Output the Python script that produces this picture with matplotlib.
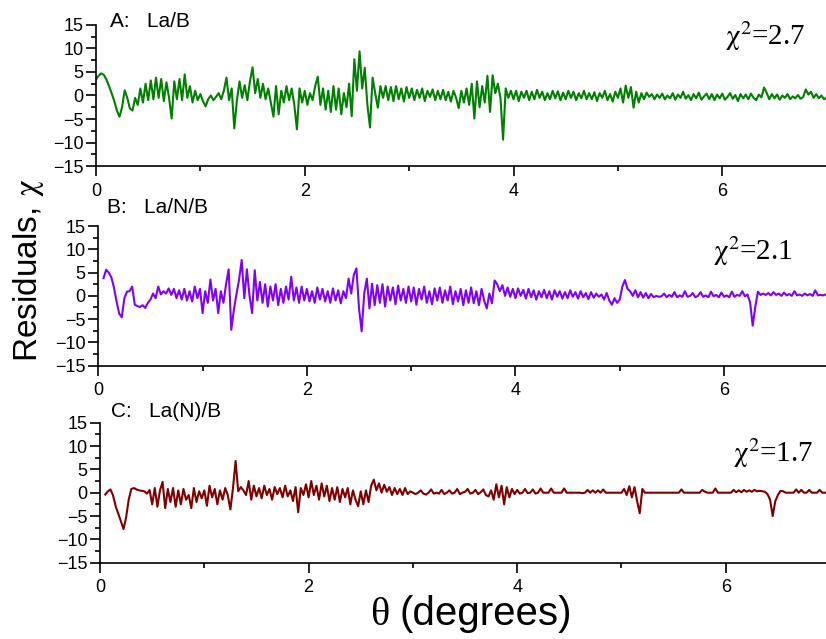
import matplotlib
matplotlib.use("Agg")
import matplotlib.pyplot as plt
import numpy as np

plt.rcParams['font.family'] = ['Liberation Sans', 'DejaVu Sans']
plt.rcParams['mathtext.fontset'] = 'stix'

# angle grid (degrees), one reading every 0.025 deg
theta = np.arange(281) * 0.025

# residuals, panel A: La/B
res_a = [
    3.4, 4.2, 4.7, 4.4, 3.4, 2.0, 0.5, -1.2, -3.2, -4.5,
    -2.5, 1.1, -0.5, -2.8, -3.2, -0.5, -2.0, 1.5, -1.5, 2.5,
    -1.0, 3.2, -0.8, 3.8, -0.5, 3.5, -1.2, 2.8, -0.5, -4.9,
    3.0, -0.8, 3.5, -1.0, 4.5, -0.5, 2.0, -1.5, 1.0, -1.0,
    0.3, -1.2, -2.3, -0.8, 0.0, -1.0, -0.3, 0.5, -0.8, 1.0,
    3.8, -1.0, 1.5, -7.0, -1.0, 3.0, -0.5, 2.2, -1.0, 3.0,
    6.0, 0.5, 3.5, -0.5, 2.5, -0.8, 1.5, -1.5, -4.5, 2.0,
    -4.0, 1.0, -1.5, 2.0, -1.0, 1.5, -2.0, -7.2, 1.5, -1.5,
    1.0, -2.0, 0.5, -1.0, 2.0, 4.0, -2.0, 1.5, -3.0, 1.0,
    -3.5, 2.0, -3.0, 1.5, -4.0, 0.5, -2.5, 2.5, -4.4, 7.7,
    1.0, 9.4, 1.5, 5.9, -2.0, -6.8, 3.8, 0.5, -2.6, 2.0,
    -0.5, 2.0, -1.0, 1.8, -1.2, 2.0, -0.8, 1.5, -1.3, 1.8,
    -0.5, 1.5, -1.0, 1.2, -0.5, 1.5, -1.2, 1.0, -0.3, 1.3,
    -1.0, 1.0, -0.8, 1.2, -1.0, 0.8, -1.3, 1.0, -0.5, -2.7,
    1.0, -1.5, 1.5, -2.0, 2.5, -4.9, 3.0, -2.5, 2.0, -1.5,
    4.2, -3.5, 4.3, 0.5, 2.5, -0.5, -9.4, 1.5, -0.5, 1.0,
    -0.8, 1.0, -1.2, 0.8, -0.5, 1.0, -1.0, 0.8, -0.8, 1.2,
    -0.5, 0.8, -1.0, 0.5, -0.8, 1.0, -0.6, 0.9, -1.0, 0.6,
    -0.8, 1.0, -0.5, 0.8, -1.0, 0.5, -0.6, 1.0, -0.8, 0.5,
    -0.8, 0.7, -1.2, 0.5, -0.5, 1.0, -1.0, 0.3, -1.3, 0.8,
    -0.5, 1.5, -1.5, 2.1, -0.5, 1.8, -2.6, 0.8, -1.5, 0.5,
    -0.8, 0.6, -0.3, 0.3, -0.8, 0.2, -0.5, 0.4, -0.8, 0.0,
    -0.6, 0.5, -0.9, 0.2, -0.5, 0.8, -0.7, 0.1, -1.0, 0.3,
    -0.6, 0.6, -0.9, -0.2, 0.4, -0.8, 0.3, -1.0, 0.2, -0.6,
    0.4, -0.9, -0.3, 0.5, -0.7, 0.1, -1.2, 0.3, -0.6, 0.2,
    -0.8, 0.4, -0.5, -1.0, 0.2, -0.4, 1.7, 0.6, -0.8, 0.3,
    -0.6, 0.2, -0.9, 0.0, -0.5, 0.3, -0.8, -0.2, -0.6, 0.1,
    -0.7, -0.3, 1.3, 0.2, 0.8, -0.5, 0.3, -0.6, 0.0, -0.8,
    -0.4,
]

# panel B: La/N/B (no data below 0.05 deg)
res_b = [
    np.nan, np.nan, 3.8, 5.6, 5.0, 4.0, 1.8, -1.2, -3.8, -4.6,
    -0.5, 0.9, 1.0, 2.0, -1.9, -2.2, -2.4, -2.0, -2.6, -1.5,
    -0.8, 0.5, -0.5, 2.0, 0.3, 1.0, 0.5, 1.6, 0.2, 1.5,
    -0.5, 1.2, -0.8, 1.5, -1.0, 1.0, -1.2, 2.0, -0.5, 1.5,
    -3.7, 1.0, -1.5, 3.5, -1.0, 1.5, -3.7, 1.0, -1.5, 2.5,
    5.7, -7.3, -3.0, 0.4, 3.5, 7.7, -0.5, 5.7, 0.0, -3.7,
    5.5, -1.0, 3.0, -1.5, 2.5, -2.3, 2.0, -1.0, 2.5, -2.0,
    1.5, -1.5, 2.0, -0.8, 4.1, -1.0, 1.8, -1.5, 2.0, -1.0,
    1.5, -1.2, 1.0, -1.5, 1.8, -0.8, 1.5, -1.2, 1.0, -1.5,
    1.6, -1.0, 1.2, -1.6, 1.0, -0.5, 3.7, 0.5, 4.5, 5.9,
    -2.7, -7.6, 0.5, 3.7, -2.7, 2.6, -2.0, 2.3, -1.5, 2.5,
    -2.3, 2.0, -1.0, 1.8, -1.8, 2.2, -1.0, 1.5, -1.5, 2.0,
    -1.2, 1.8, -1.9, 1.5, -0.8, 2.0, -1.5, 1.0, -1.8, 1.6,
    -1.0, 1.8, -1.5, 1.2, -1.0, 2.0, -1.8, 1.0, -1.2, 1.5,
    -2.0, 1.2, -1.5, 1.8, -1.6, 1.0, -2.0, 1.5, -1.0, -2.7,
    0.5, -1.6, 3.3, 2.5, 1.0, 2.3, 0.0, 1.8, -0.2, 1.5,
    -0.5, 1.6, 0.0, 1.3, -0.6, 1.5, -0.3, 1.2, -0.8, 1.0,
    -0.3, 1.3, -0.5, 1.0, -0.8, 1.2, -0.2, 1.0, -0.6, 0.8,
    -0.5, 1.2, -0.2, 0.8, -0.6, 1.0, -0.3, 0.6, -0.7, 0.8,
    -0.4, 0.5, -0.2, 0.3, -0.8, 0.6, -1.0, -1.9, -0.5, -1.5,
    -0.8, 2.0, 3.4, 1.5, 1.0, 0.0, 1.2, -0.3, 0.8, -0.4,
    0.6, -0.5, 0.4, -0.3, 0.0, -0.2, -0.1, 0.5, -0.3, 0.2,
    -0.2, 0.8, -0.3, 0.1, -0.2, 1.0, -0.2, 0.0, 0.6, -0.3,
    0.0, 0.8, -0.2, 0.1, -0.3, 0.9, -0.1, 0.2, -0.3, 0.7,
    -0.2, 0.1, -0.3, 0.9, -0.2, 0.2, 0.0, 1.0, -0.1, 0.3,
    -1.4, -6.4, -2.3, 0.9, 0.2, 0.5, 0.2, 0.6, 0.1, 0.8,
    0.2, 0.5, 0.0, 0.7, 0.1, 0.4, 0.0, 1.0, 0.1, 0.3,
    0.0, 0.5, 0.1, 0.4, 0.0, 1.2, 0.1, 0.2, 0.1, 0.3,
    0.1,
]

# panel C: La(N)/B
res_c = [
    np.nan, np.nan, -0.4, 0.3, 0.7, -0.6, -2.9, -4.5, -6.1, -7.8,
    -5.3, -1.5, 0.8, 1.0, 0.7, 0.5, 0.4, 0.3, -0.2, 0.6,
    -2.5, 1.0, -3.0, 0.5, 2.3, -3.3, 0.8, -2.0, 1.0, -3.0,
    0.5, -2.5, 0.8, -1.5, -0.5, -3.3, 1.0, -2.0, 0.3, -1.2,
    0.5, -2.8, 1.5, -1.0, 0.8, -2.5, 0.5, -1.5, 1.0, -0.5,
    -3.6, 1.0, 6.8, 0.3, 1.2, 0.5, -0.5, 2.5, -1.5, 1.5,
    -0.8, 1.0, -1.2, 1.5, -0.5, 0.8, -1.5, 1.2, -0.3, 1.0,
    -1.0, 1.5, -0.8, 0.5, -1.8, 1.2, -4.2, 1.0, -0.5, 1.8,
    -1.0, 2.5, -0.5, 1.5, -1.5, 2.0, -0.8, 1.5, -1.8, 1.0,
    -1.5, 1.2, -2.0, 0.8, -1.0, 1.0, -2.5, 0.5, -1.5, -2.9,
    0.3, -2.5, 0.5, -2.0, 1.5, 2.8, 0.5, 2.0, 0.0, 1.7,
    0.2, 1.2, -0.5, 1.0, -0.3, 0.8, -0.5, 1.0, -0.3, 0.3,
    0.0, -0.3, 0.0, 0.5, -0.2, -0.4, 0.0, 0.7, -0.2, 0.0,
    -0.2, 0.6, -0.3, 0.0, 0.5, -0.2, 0.0, 0.8, -0.3, 0.0,
    0.2, 0.8, -0.2, 0.0, 0.6, -0.3, 0.1, 0.7, -0.5, -0.8,
    0.5, -1.5, 1.8, -1.0, 1.5, -2.5, 1.2, -1.0, 0.8, -0.3,
    0.6, -0.2, 0.0, 0.8, -0.1, 0.0, 0.7, -0.2, 0.0, 0.9,
    0.0, 0.0, 0.0, 0.9, 0.0, 0.0, 0.0, 0.0, 0.9, 0.0,
    0.0, 0.0, 0.0, 0.0, 0.0, -0.1, 0.0, 0.6, 0.0, 0.5,
    0.0, 0.5, 0.0, 0.7, 0.0, 0.0, 0.0, 0.0, 0.0, 0.0,
    0.0, 0.8, -0.5, 1.4, -1.0, 1.2, -1.8, -4.4, 0.8, 0.0,
    0.0, 0.0, 0.0, 0.0, 0.0, 0.0, 0.0, 0.0, 0.0, 0.0,
    0.0, 0.0, 0.0, 0.7, 0.0, 0.0, 0.0, 0.0, 0.0, 0.0,
    0.0, 0.6, 0.2, 0.0, 0.0, 0.0, 0.9, 0.0, 0.0, 0.0,
    0.0, 0.0, 0.0, 0.6, 0.1, 0.5, 0.1, 0.6, 0.2, 0.5,
    0.2, 0.6, 0.3, 0.4, 0.3, 0.2, -0.3, -1.5, -5.0, -1.8,
    -0.5, 0.4, 0.3, 0.0, 0.0, 0.0, 0.0, 0.7, 0.0, 0.6,
    0.0, 0.0, 0.6, 0.0, 0.0, 0.0, 0.6, 0.0, 0.0, 0.0,
    0.0,
]

panel_labels = ['A:   La/B', 'B:   La/N/B', 'C:   La(N)/B']
chi2_values = ['2.7', '2.1', '1.7']
colors = ['#008000', '#8000ff', '#800000']

fig = plt.figure(figsize=(8.26, 6.39), dpi=100)

# axes boxes (left, bottom, width, height) in figure fraction
boxes = [
    (0.1162, 0.7402, 0.8846, 0.2207),
    (0.1190, 0.4277, 0.8838, 0.2186),
    (0.1211, 0.1194, 0.8838, 0.2191),
]
label_pos = [(0.133, 0.958), (0.130, 0.667), (0.134, 0.347)]
chi_pos = [(0.861, 0.858), (0.842, 0.757), (0.867, 0.719)]

for i, res in enumerate([res_a, res_b, res_c]):
    ax = fig.add_axes(boxes[i])
    ax.plot(theta, res, color=colors[i], lw=1.5)
    ax.set_xlim(0, 7.0)
    ax.set_ylim(-15, 15)
    ax.set_yticks([-15, -10, -5, 0, 5, 10, 15])
    ax.set_yticks(np.arange(-15, 15.1, 2.5), minor=True)
    ax.set_xticks([0, 2, 4, 6])
    ax.set_xticks([1, 3, 5], minor=True)
    ax.spines['top'].set_visible(False)
    ax.spines['right'].set_visible(False)
    for s in ['left', 'bottom']:
        ax.spines[s].set_linewidth(1.2)
    ax.tick_params(which='major', direction='out', length=7, width=1.2,
                   labelsize=13, pad=2)
    ax.tick_params(axis='x', which='major', pad=5)
    ax.tick_params(which='minor', direction='out', length=3.5, width=1.2)
    ax.patch.set_alpha(0)
    fig.text(label_pos[i][0], label_pos[i][1], panel_labels[i],
             fontsize=15, va='baseline')
    ax.text(chi_pos[i][0], chi_pos[i][1], r'$\mathrm{\chi}^2$=' + chi2_values[i],
            transform=ax.transAxes, fontsize=21, va='baseline',
            family=['Liberation Serif', 'DejaVu Serif'])

fig.text(0.034, 0.577, r'Residuals, $\mathrm{\chi}$', rotation=90, fontsize=24,
         ha='center', va='center')
fig.text(0.448, 0.022, 'θ', fontsize=29, ha='left', va='baseline',
         family=['Liberation Serif', 'DejaVu Serif'])
fig.text(0.484, 0.022, '(degrees)', fontsize=29, ha='left', va='baseline')

fig.savefig('out.png', dpi=100)
